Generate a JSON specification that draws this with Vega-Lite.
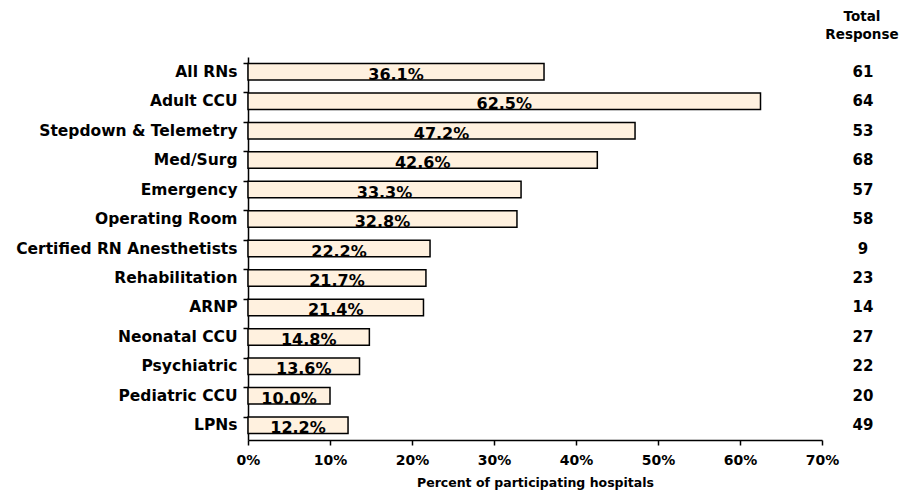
{
  "$schema": "https://vega.github.io/schema/vega-lite/v6.json",
  "autosize": "none",
  "width": 574,
  "height": 383,
  "padding": {"left": 248, "top": 57, "right": 81, "bottom": 54},
  "background": "white",
  "title": {
    "text": ["Total", "Response"],
    "anchor": "end",
    "frame": "group",
    "align": "center",
    "dx": 40,
    "offset": 16,
    "lineHeight": 18,
    "font": "DejaVu Sans",
    "fontSize": 13.5,
    "fontWeight": "bold",
    "color": "black"
  },
  "data": {
    "values": [
      {"category": "All RNs", "pct": 36.1, "label": "36.1%", "total": 61},
      {"category": "Adult CCU", "pct": 62.5, "label": "62.5%", "total": 64},
      {"category": "Stepdown & Telemetry", "pct": 47.2, "label": "47.2%", "total": 53},
      {"category": "Med/Surg", "pct": 42.6, "label": "42.6%", "total": 68},
      {"category": "Emergency", "pct": 33.3, "label": "33.3%", "total": 57},
      {"category": "Operating Room", "pct": 32.8, "label": "32.8%", "total": 58},
      {"category": "Certified RN Anesthetists", "pct": 22.2, "label": "22.2%", "total": 9},
      {"category": "Rehabilitation", "pct": 21.7, "label": "21.7%", "total": 23},
      {"category": "ARNP", "pct": 21.4, "label": "21.4%", "total": 14},
      {"category": "Neonatal CCU", "pct": 14.8, "label": "14.8%", "total": 27},
      {"category": "Psychiatric", "pct": 13.6, "label": "13.6%", "total": 22},
      {"category": "Pediatric CCU", "pct": 10.0, "label": "10.0%", "total": 20},
      {"category": "LPNs", "pct": 12.2, "label": "12.2%", "total": 49}
    ]
  },
  "config": {
    "view": {"stroke": null},
    "font": "DejaVu Sans"
  },
  "encoding": {
    "y": {
      "field": "category",
      "type": "nominal",
      "sort": null,
      "scale": {"paddingInner": 0.44, "paddingOuter": 0.22},
      "axis": {
        "title": null,
        "bandPosition": 0,
        "domainColor": "black",
        "domainWidth": 1.5,
        "tickColor": "black",
        "tickWidth": 1.5,
        "tickSize": 5,
        "labelPadding": 6,
        "labelLimit": 0,
        "labelFont": "DejaVu Sans",
        "labelFontSize": 15.5,
        "labelFontWeight": "bold",
        "labelColor": "black"
      }
    }
  },
  "layer": [
    {
      "mark": {"type": "bar", "fill": "#FFF1DF", "stroke": "black", "strokeWidth": 1.5},
      "encoding": {
        "x": {
          "field": "pct",
          "type": "quantitative",
          "scale": {"domain": [0, 70], "nice": false},
          "axis": {
            "title": "Percent of participating hospitals",
            "values": [0, 10, 20, 30, 40, 50, 60, 70],
            "labelExpr": "datum.value + '%'",
            "grid": false,
            "domainColor": "black",
            "domainWidth": 1.5,
            "tickColor": "black",
            "tickWidth": 1.5,
            "tickSize": 5,
            "labelPadding": 8,
            "labelFont": "DejaVu Sans",
            "labelFontSize": 14,
            "labelFontWeight": "bold",
            "labelColor": "black",
            "labelFlush": false,
            "titleFont": "DejaVu Sans",
            "titleFontSize": 12.5,
            "titleFontWeight": "bold",
            "titleColor": "black",
            "titlePadding": 9
          }
        }
      }
    },
    {
      "transform": [{"calculate": "datum.pct / 2", "as": "mid"}],
      "mark": {"type": "text", "font": "DejaVu Sans", "fontSize": 16, "fontWeight": "bold", "color": "black", "align": "center", "baseline": "alphabetic", "dy": 8},
      "encoding": {
        "x": {"field": "mid", "type": "quantitative"},
        "text": {"field": "label"}
      }
    },
    {
      "mark": {"type": "text", "font": "DejaVu Sans", "fontSize": 15, "fontWeight": "bold", "color": "black", "align": "center", "baseline": "middle"},
      "encoding": {
        "x": {"datum": 75},
        "text": {"field": "total"}
      }
    }
  ]
}
